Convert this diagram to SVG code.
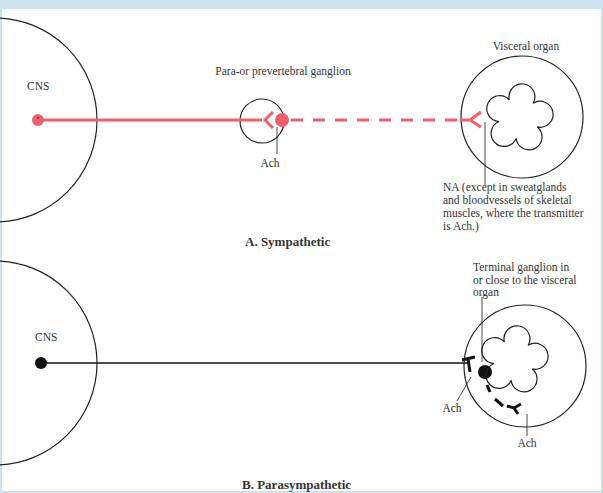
<svg xmlns="http://www.w3.org/2000/svg" width="603" height="493" viewBox="0 0 603 493">
<style>
text{font-family:"Liberation Serif",serif;font-size:11.5px;fill:#333}
.c{fill:none;stroke:#222;stroke-width:1.2;stroke-linejoin:round}
.r{stroke:#f0606a;fill:none;stroke-width:3}
.k{stroke:#111;fill:none}
.l{stroke:#333;stroke-width:0.9;fill:none}
.h{font-size:13px;font-weight:bold}
</style>
<defs>
<path id="star" fill="none" stroke="#222" stroke-width="1" d="M10,-13.75 A10.8,10.8 0 1 1 16.17,5.25 A10.8,10.8 0 1 1 0,17 A10.8,10.8 0 1 1 -16.17,5.25 A10.8,10.8 0 1 1 -10,-13.75 A10.8,10.8 0 1 1 10,-13.75 Z"/>
</defs>
<rect x="0" y="0" width="603" height="493" fill="#c9e2ec"/>
<rect x="2" y="9" width="599" height="482" fill="#fff"/>
<g id="cns-a"><circle class="c" cx="-5" cy="120" r="102"/><text x="27" y="90">CNS</text></g>
<g id="ganglion-a"><circle class="c" cx="262" cy="121" r="22"/><text x="283" y="75" text-anchor="middle">Para-or prevertebral ganglion</text></g>
<g id="organ-a"><circle class="c" cx="522" cy="117" r="61"/>
<use href="#star" transform="translate(519,118) rotate(8) scale(1.2)"/>
<text x="526" y="50" text-anchor="middle">Visceral organ</text></g>
<g id="connectors">
<circle cx="38" cy="120" r="6" fill="#f0606a"/><circle cx="38" cy="118" r="1" fill="#333"/>
<line class="r" x1="38" y1="120" x2="262" y2="120"/>
<path class="r" d="M273,112 L265,120 L273,128"/>
<circle cx="282" cy="120" r="7" fill="#f0606a"/>
<line class="r" x1="289" y1="120" x2="460" y2="120" stroke-dasharray="12,10" stroke-dashoffset="-2"/>
<path class="r" d="M460,120 L470,120 L481,112 M470,120 L481,127"/>
<line class="l" x1="277" y1="127" x2="277" y2="154"/>
<line class="l" x1="485" y1="122" x2="485" y2="185"/>
<circle cx="41" cy="363" r="6" fill="#111"/>
<line class="k" x1="41" y1="363" x2="470" y2="363" stroke-width="1.5"/>
<path class="k" stroke-width="3" d="M462,360 L475,357 M468,359 L470,372"/>
<circle cx="485" cy="372" r="7" fill="#111"/>
<path class="k" stroke-width="3" d="M487,385 L490,392 M495,399 L503,406"/>
<path class="k" stroke-width="3" d="M507,406 L514,408 L521,404 M514,408 L518,414"/>
<line class="l" x1="482" y1="297" x2="482" y2="362"/>
<line class="l" x1="471" y1="377" x2="457" y2="401"/>
<line class="l" x1="527" y1="414" x2="527" y2="436"/>
</g>
<g id="na-label"><text x="443" y="191">NA (except in sweatglands</text><text x="443" y="204">and bloodvessels of skeletal</text><text x="443" y="217">muscles, where the transmitter</text><text x="443" y="230">is Ach.)</text></g>
<text x="270" y="167" text-anchor="middle">Ach</text>
<text x="245" y="246" class="h">A.  Sympathetic</text>
<g id="cns-b"><circle class="c" cx="-5" cy="363" r="102"/><text x="35" y="341">CNS</text></g>
<g id="organ-b"><circle class="c" cx="525" cy="366" r="61"/>
<use href="#star" transform="translate(514,360) rotate(8) scale(1.2)"/>
<text x="473" y="271">Terminal ganglion in</text><text x="473" y="284">or close to the visceral</text><text x="473" y="296">organ</text></g>
<text x="452" y="412" text-anchor="middle">Ach</text>
<text x="527" y="447" text-anchor="middle">Ach</text>
<text x="242" y="489" class="h">B.  Parasympathetic</text>
</svg>
